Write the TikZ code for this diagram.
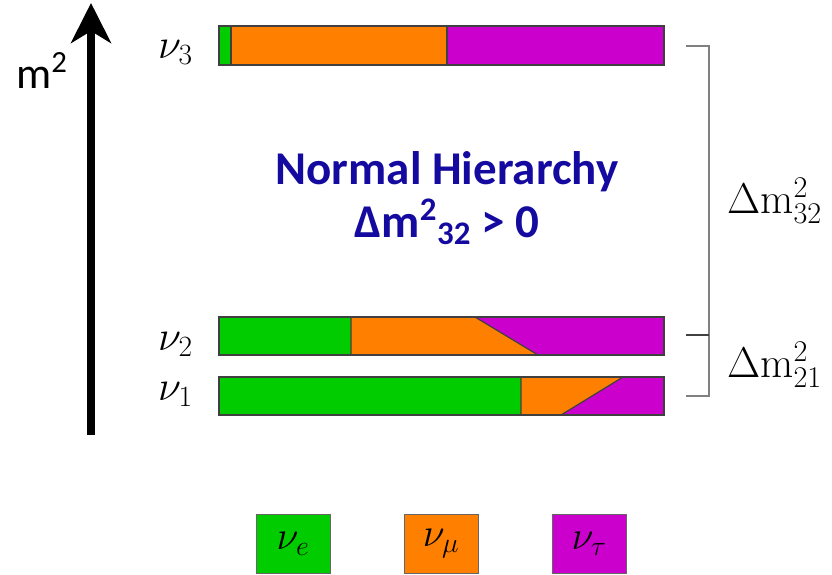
\documentclass[tikz,border=0pt]{standalone}
\usepackage{fix-cm}
\usepackage{fontspec}
\newfontfamily\calibri{Carlito}
\usetikzlibrary{arrows.meta,positioning}
\definecolor{nugreen}{RGB}{0,204,0}
\definecolor{nuorange}{RGB}{255,128,0}
\definecolor{numagenta}{RGB}{204,0,204}
\definecolor{titleblue}{RGB}{20,10,160}
\tikzset{
 seg/.style={draw=black!75,line width=1.2pt,line join=miter},
 key/.style={rectangle,draw=black!60,line width=1pt,minimum width=74pt,minimum height=59pt,inner sep=0pt,font=\fontsize{40}{46}\selectfont},
 masslab/.style={anchor=base west,inner sep=0pt,font=\fontsize{42}{50}\selectfont},
 splitlab/.style={anchor=base west,inner sep=0pt,font=\fontsize{43}{50}\selectfont},
 bracket/.style={draw=black!50,line width=1.5pt},
 axis/.style={-{Stealth[length=40pt,width=40pt,inset=12pt]},line width=8pt,draw=black}}

\begin{document}
\begin{tikzpicture}[x=1pt,y=-1pt]
\useasboundingbox (0,0) rectangle (832,574);
% mass axis
\coordinate (axisbot) at (91,435);
\coordinate (axistop) at (91,3);
\draw[axis] (axisbot)--(axistop);
\node[anchor=base west,inner sep=0pt,font=\calibri\fontsize{44}{50}\selectfont] (msq) at (16,88) {m\textsuperscript{2}};
% nu3
\fill[nugreen] (219,26) rectangle (231,65); \fill[nuorange] (231,26) rectangle (447,65); \fill[numagenta] (447,26) rectangle (664,65);
\draw[seg] (231,26)--(231,65) (447,26)--(447,65); \draw[seg] (219,26) rectangle (664,65);
% nu2
\fill[nugreen] (219,317) rectangle (351,355);
\fill[nuorange] (351,317)--(475,317)--(538,355)--(351,355)--cycle;
\fill[numagenta] (475,317)--(664,317)--(664,355)--(538,355)--cycle;
\draw[seg] (351,317)--(351,355) (475,317)--(538,355); \draw[seg] (219,317) rectangle (664,355);
% nu1
\fill[nugreen] (219,377) rectangle (521,415);
\fill[nuorange] (521,377)--(623,377)--(561,415)--(521,415)--cycle;
\fill[numagenta] (623,377)--(664,377)--(664,415)--(561,415)--cycle;
\draw[seg] (521,377)--(521,415) (623,377)--(561,415); \draw[seg] (219,377) rectangle (664,415);
\node[masslab] (nu3) at (158,58) {$\nu_3$};
\node[masslab] (nu2) at (158,350) {$\nu_2$};
\node[masslab] (nu1) at (158,400) {$\nu_1$};
% splittings
\coordinate (top3) at (686,46);
\coordinate (mid2) at (686,335);
\coordinate (bot1) at (686,396);
\draw[bracket] (top3)--++(23,0)|-(bot1);
\draw[bracket,draw=black!75] (mid2)--++(23,0);
\node[splitlab] (dm32) at (727,213) {$\Delta\mathrm{m}^2_{32}$};
\node[splitlab] (dm21) at (727,377) {$\Delta\mathrm{m}^2_{21}$};
\node[align=center,text=titleblue,font=\calibri\bfseries\fontsize{47}{53}\selectfont] (title) at (447,198) {Normal Hierarchy\\Δm\textsuperscript{2}\textsubscript{32} > 0};
% flavour key
\node[key,fill=nugreen] (keye) at (293,543.5) {$\nu_e$};
\node[key,fill=nuorange] (keymu) at (441,543.5) {$\nu_\mu$};
\node[key,fill=numagenta] (keytau) at (589,543.5) {$\nu_\tau$};
\end{tikzpicture}
\end{document}
